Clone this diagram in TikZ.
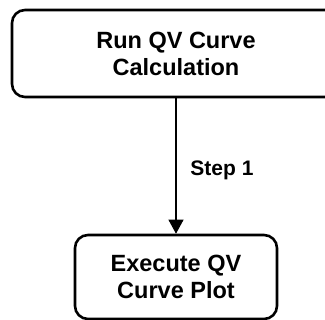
\documentclass[tikz,border=0pt]{standalone}
\usepackage{fontspec}
\setmainfont{Liberation Sans}
\usetikzlibrary{arrows.meta}
\begin{document}
\begin{tikzpicture}[x=1pt,y=-1pt,
  stepbox/.style={draw=black, line width=2.6pt, rounded corners=13pt, fill=white,
    align=center, font=\fontsize{23.5}{27}\selectfont\bfseries, inner sep=0pt},
  conn/.style={line width=1.1pt, -{Triangle[length=14pt,width=15pt]}},
  lbl/.style={font=\fontsize{21}{25}\selectfont\bfseries, inner sep=0pt}]
\useasboundingbox (0,0) rectangle (325,320);
\clip (0,0) rectangle (325,320);
\node[stepbox, minimum width=328pt, minimum height=87pt] (calc) at (176,53.5) {Run QV Curve\\Calculation};
\node[stepbox, minimum width=202pt, minimum height=84pt] (plot) at (176,277) {Execute QV\\Curve Plot};
\draw[conn] (calc.south) -- (plot.north);
\node[lbl] (s1) at (222,170) {Step 1};
\end{tikzpicture}
\end{document}
